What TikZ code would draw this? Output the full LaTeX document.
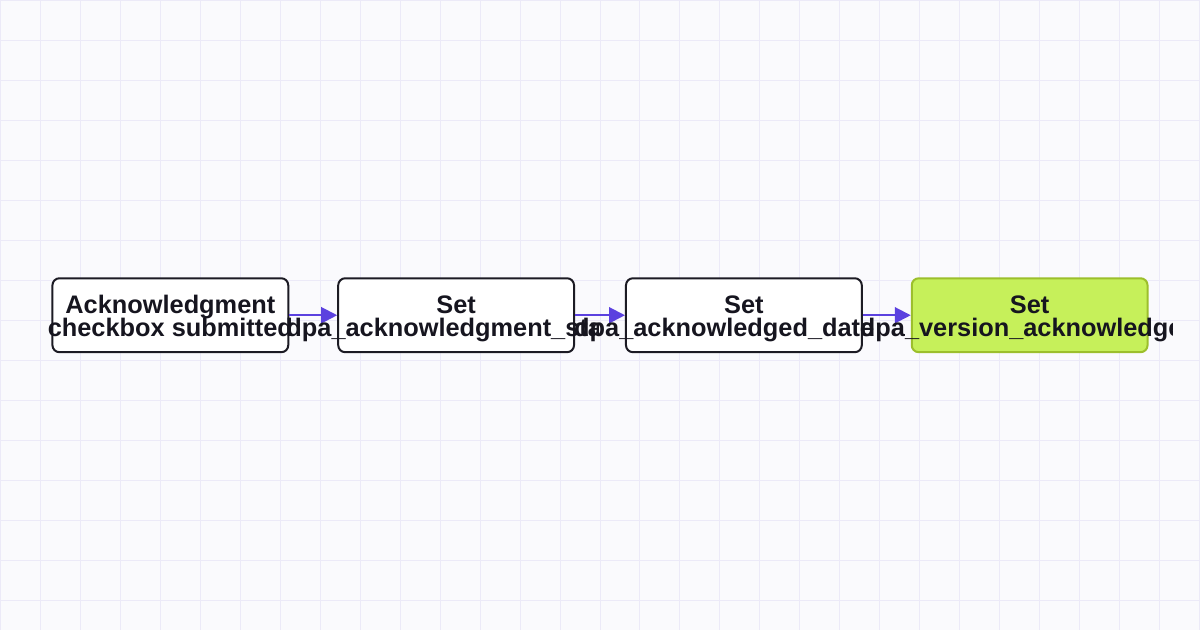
\documentclass[tikz,border=0pt]{standalone}
\usepackage{fontspec}
\setmainfont{Liberation Sans}
\usetikzlibrary{arrows.meta}
\definecolor{bgc}{HTML}{FAFAFD}
\definecolor{gridc}{HTML}{ECEAF8}
\definecolor{edgec}{HTML}{5B41DF}
\definecolor{txtc}{HTML}{16151F}
\definecolor{boxline}{HTML}{1C1B24}
\definecolor{greenfill}{HTML}{C6F05A}
\definecolor{greenline}{HTML}{9CBF2C}
\newlength\mytw
\begin{document}
\settowidth\mytw{\bfseries\fontsize{10pt}{12pt}\selectfont Acknowledgment}%
\pgfmathsetmacro\fsz{10*210/\mytw}%
\begin{tikzpicture}[x=1pt,y=-1pt]
\tikzset{
  boxstyle/.style={draw=boxline, fill=white, line width=2pt, rounded corners=7pt,
    minimum width=236pt, minimum height=74pt, inner sep=0pt},
  greenbox/.style={boxstyle, draw=greenline, fill=greenfill},
  lbl/.style={font=\bfseries\fontsize{\fsz pt}{\fsz pt}\selectfont, text=txtc, inner sep=0pt},
  edgestyle/.style={draw=edgec, line width=2pt, -{Triangle[length=16pt,width=16pt]}},
}
% background and grid
\fill[bgc] (0,0) rectangle (1200,630);
\foreach \gx in {0,40,...,1200} \draw[gridc, line width=1pt] (\gx,0) -- (\gx,630);
\foreach \gy in {0,40,...,600} \draw[gridc, line width=1pt] (0,\gy) -- (1200,\gy);
% nodes
\node[boxstyle] (a) at (170,315) {};
\node[boxstyle] (b) at (456,315) {};
\node[boxstyle] (c) at (744,315) {};
\node[greenbox] (d) at (1030,315) {};
% edges
\draw[edgestyle] (a.east) -- (b.west);
\draw[edgestyle] (b.east) -- (c.west);
\draw[edgestyle] (c.east) -- (d.west);
% labels
\node[lbl, anchor=base] (a1) at (170,313) {Acknowledgment};
\node[lbl, anchor=base] (a2) at (170,336) {checkbox submitted};
\node[lbl, anchor=base] (b1) at (456,313) {Set};
\begin{scope}
\clip (280,280) rectangle (598,350);
\node[lbl, anchor=base west] (b2) at (286,336) {dpa\_acknowledgment\_status};
\end{scope}
\node[lbl, anchor=base] (c1) at (744,313) {Set};
\begin{scope}
\clip (568,280) rectangle (886,350);
\node[lbl, anchor=base west] (c2) at (574,336) {dpa\_acknowledged\_date};
\end{scope}
\node[lbl, anchor=base] (d1) at (1030,313) {Set};
\begin{scope}
\clip (854,280) rectangle (1173,350);
\node[lbl, anchor=base west] (d2) at (860,336) {dpa\_version\_acknowledged};
\end{scope}
\useasboundingbox (0,0) rectangle (1200,630);
\end{tikzpicture}
\end{document}
